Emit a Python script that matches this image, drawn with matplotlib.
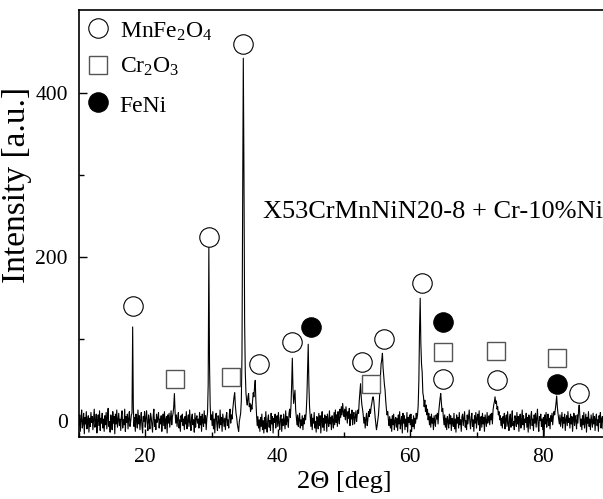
"""XRD pattern of X53CrMnNiN20-8 + Cr-10%Ni with phase markers."""
import numpy as np
import matplotlib
matplotlib.use('Agg')
from matplotlib import pyplot as plt

# 2theta grid, 0.1 deg step from 10.0 deg
two_theta_start = 10.0
two_theta_step = 0.1

# intensity, one row = 2 deg
intensity = [
    -5, 8, -12, 3, 14, -8, -2, 10, -15, 5, -3, 12, -9, 0, 7, -13, 4, -6, 11, -1,
    6, -10, 2, 15, -7, -3, 9, -14, 1, 8, -5, 13, -11, 4, -2, 10, -8, 3, -12, 7,
    -4, 11, -9, 5, 16, -6, 0, -13, 8, 3, -10, 12, -2, 6, -15, 9, -3, 14, -7, 1,
    10, -5, 3, -11, 7, 13, -8, 2, -4, 15, -12, 6, -1, 9, -9, 4, 12, -6, 0, 8,
    10, 115, 18, -6, 5, -12, 9, 3, -8, 14, -3, 7, -10, 2, 11, -5, -14, 6, 0, 12,
    -7, 4, 13, -2, -11, 8, 1, -9, 10, 5, -4, -13, 7, 15, -6, 2, -10, 9, -1, 4,
    11, -8, 3, -3, 7, -12, 0, 9, -5, 12, -9, 2, 6, -14, 8, -2, 10, -7, 3, 13,
    -4, 6, 10, 18, 34, 12, -2, 8, -6, 4, 11, -8, 2, -12, 7, 0, 9, -5, 3, -10,
    6, -3, 12, -9, 1, 8, -6, 14, -1, -11, 5, 9, -4, 2, -13, 10, -7, 4, 7, -2,
    3, -8, 11, -4, 6, -12, 9, 0, -6, 13, -2, 7, -10, 4, 10, 45, 212, 70, 20, 2,
    8, -5, 12, -9, 3, -14, 6, 10, -3, -11, 7, 1, -8, 14, -4, 5, -12, 9, 2, -6,
    4, -10, 6, 11, -5, 2, -8, 9, 15, -2, 8, 3, 14, 22, 30, 35, 20, 10, 5, -3,
    -8, -12, 0, 5, 10, 25, 80, 250, 442, 300, 120, 60, 35, 25, 20, 30, 34, 18, 22, 12,
    20, 15, 25, 35, 30, 42, 50, 25, 8, -5, 6, -8, 2, -12, 5, -6, 9, -10, 1, -14,
    5, -9, 12, -4, -13, 3, 8, -7, 1, -11, 10, -3, 6, -14, 4, -1, 9, -8, 2, 7,
    -6, 11, -2, -10, 5, 8, -12, 3, -5, 9, 0, -9, 13, -4, 6, 2, -7, 10, 15, 5,
    20, 45, 77, 40, 22, 30, 38, 15, 5, -4, 8, -6, 3, 10, -8, 2, -5, 7, -10, 4,
    -3, 8, 2, 12, 30, 60, 94, 45, 18, 5, -6, 9, -10, 4, -2, 11, -8, 0, -13, 6,
    3, -9, 10, -5, 7, -14, 1, 12, -7, 4, -11, 8, -2, 6, -12, 9, 0, -6, 13, -3,
    5, -10, 7, 2, -8, 11, -4, 14, -1, 8, -6, 12, 3, -3, 15, 5, 18, 8, 22, 12,
    6, 15, 2, 18, 8, -2, 12, 4, 16, -5, 9, 3, 14, -4, 7, 11, -3, 5, 13, 0,
    8, 14, 10, 25, 35, 46, 30, 20, 15, 8, -2, 5, -8, 3, 10, -5, 2, 12, 6, 15,
    10, 18, 22, 28, 30, 25, 15, 5, -3, -10, -5, 2, 8, 20, 35, 55, 70, 75, 83, 65,
    55, 45, 38, 25, 15, 8, 12, 2, -5, 6, -8, 3, -12, 7, -4, 9, -10, 1, 5, -7,
    4, -11, 8, -3, 12, -9, 0, 6, -14, 10, -2, 7, -10, 3, -6, 11, -13, 5, -1, 8,
    -4, 9, -12, 2, -6, 7, -9, 4, -2, 10, 3, 8, 20, 50, 110, 150, 95, 70, 60, 35,
    30, 18, 26, 12, 20, 8, 15, 2, 10, -4, 6, -7, 9, -2, 4, -10, 7, 0, -6, 8,
    3, 10, -3, 12, 20, 28, 34, 22, 12, 16, 5, -4, 8, -7, 4, -10, 6, 1, -8, 9,
    -3, 7, -11, 4, 0, -6, 10, -9, 3, -13, 8, -2, 5, -8, 11, -4, 2, -12, 6, 9,
    -5, 3, 12, -7, 1, -10, 8, -3, 6, 14, -1, -9, 5, 10, -6, 2, -12, 7, -2, 11,
    -8, 4, 9, -4, 13, -11, 2, 6, -7, 10, -3, 5, -12, 8, 1, -6, 11, -2, 4, 7,
    -4, 9, 2, 10, -3, 14, 20, 24, 30, 22, 25, 15, 18, 8, 12, 2, 7, -5, 4, -8,
    6, -2, 10, -9, 3, 8, -6, 12, -3, -11, 5, 9, -7, 2, 13, -5, 0, -10, 7, 3,
    -6, 11, -3, 6, -12, 4, 9, -8, 1, 14, -4, 7, -10, 3, -1, 10, -7, 5, -13, 8,
    2, -9, 6, 12, -5, 3, -11, 8, -2, 10, -7, 4, 15, -4, -12, 6, 1, 9, -6, 3,
    -10, 5, -18, 8, -3, 11, -7, 2, 9, -5, 4, -9, 7, 0, 10, -4, 6, 12, 8, 15,
    22, 31, 18, 10, 4, -3, 8, -6, 2, 11, -8, 5, -2, 9, -11, 3, 7, -5, 12, -1,
    4, -8, 9, -3, 6, -12, 2, 10, -5, 7, 1, -9, 8, -2, 12, 20, 6, -6, 3, -10,
    7, -4, 11, -8, 0, 9, -13, 5, -2, 12, -6, 3, -10, 8, 1, -7, 10, -3, 6, -11,
    4, 9, -5, 2, -12, 7, -1, 11, -8, 3, 6, -9, 10, -4, 1, -6, 8, 13, -2, 5,
]

# phase markers (2theta, height of symbol)
mnfe2o4_x = [18.1, 29.65, 34.8, 37.15, 42.2, 52.65, 56.05, 61.7, 64.9, 73.15, 85.4]
mnfe2o4_y = [141, 225, 459, 70, 97, 72, 100, 169, 52, 50, 35]
cr2o3_x = [24.5, 32.9, 54.1, 64.9, 72.9, 82.1]
cr2o3_y = [52, 54, 46, 85, 86, 77]
feni_x = [44.95, 64.9, 82.1]
feni_y = [115, 121, 46]

phase_labels = ['MnFe$_2$O$_4$', 'Cr$_2$O$_3$', 'FeNi']
sample_label = 'X53CrMnNiN20-8 + Cr-10%Ni'

x_ticks = [20, 40, 60, 80]
y_ticks = [0, 200, 400]


def setup_matplotlib():
    """Times-like look"""
    plt.rcParams['font.family'] = ['Liberation Serif', 'DejaVu Serif']
    plt.rcParams['mathtext.fontset'] = 'custom'
    plt.rcParams['mathtext.rm'] = 'Liberation Serif'
    plt.rcParams['mathtext.it'] = 'Liberation Serif:italic'
    plt.rcParams['axes.linewidth'] = 1.2


def main():
    setup_matplotlib()
    two_theta = two_theta_start + two_theta_step * np.arange(len(intensity))

    fig = plt.figure(figsize=(6.03, 4.99), dpi=100)
    ax = fig.add_axes([79 / 603, 62.3 / 499, 530 / 603, 426.7 / 499])

    ax.plot(two_theta, intensity, color='black', lw=0.8)

    circ = dict(marker='o', ms=14, mfc='white', mec='black', mew=0.8, ls='none')
    sq = dict(marker='s', ms=12.5, mfc='white', mec='#555555', mew=1.0, ls='none')
    dot = dict(marker='o', ms=14, mfc='black', mec='black', mew=0.8, ls='none')
    ax.plot(mnfe2o4_x, mnfe2o4_y, **circ)
    ax.plot(cr2o3_x, cr2o3_y, **sq)
    ax.plot(feni_x, feni_y, **dot)

    # hand-placed legend
    for y, style, label, base in zip([0.957, 0.871, 0.784], [circ, sq, dot],
                                     phase_labels, [0.936, 0.853, 0.762]):
        ax.plot([0.0353], [y], transform=ax.transAxes, clip_on=False, **style)
        ax.text(0.077, base, label, transform=ax.transAxes, fontsize=17,
                va='baseline', ha='left')

    ax.text(37.75, 247.6, sample_label, fontsize=19, va='baseline', ha='left')

    ax.set_xlim(10, 90)
    ax.set_ylim(-18.5, 500.6)
    ax.set_xticks(x_ticks)
    ax.set_yticks(y_ticks)
    ax.set_xticks([10, 30, 50, 70, 90], minor=True)
    ax.set_yticks([100, 300], minor=True)
    ax.tick_params(which='both', direction='in', labelsize=15.5, width=1.0)
    ax.tick_params(which='major', length=6)
    ax.tick_params(which='minor', length=3.5)
    ax.tick_params(axis='x', pad=8)
    ax.tick_params(axis='y', pad=8)

    ax.set_xlabel('2\u0398 [deg]', fontsize=19)
    ax.set_ylabel('Intensity [a.u.]', fontsize=24)
    ax.xaxis.set_label_coords(0.5, -0.08)
    ax.yaxis.set_label_coords(-0.089, 0.59)

    fig.savefig('out.png', dpi=100)


if __name__ == '__main__':
    main()
